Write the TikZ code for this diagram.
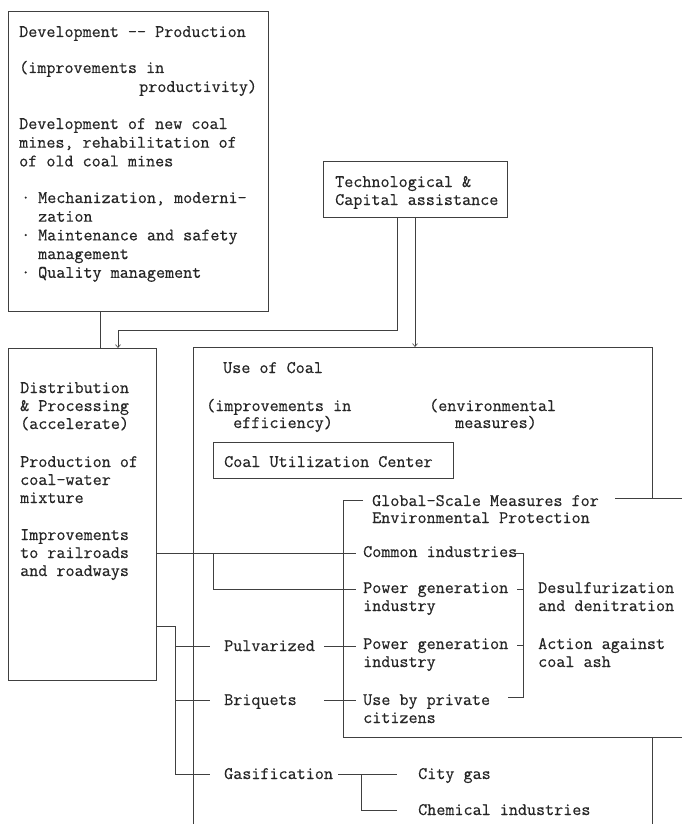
\documentclass[tikz,border=0pt]{standalone}
\usepackage{fontspec}
\newfontfamily\tw{Latin Modern Mono}[FakeBold=0.45]
\usetikzlibrary{arrows.meta}
\begin{document}
\begin{tikzpicture}[x=1pt,y=-1pt,
  ln/.style={draw=black!75, line width=0.6pt},
  box/.style={draw=black!75, line width=0.6pt, anchor=north west, inner sep=0pt},
  txt/.style={anchor=base west, inner sep=0pt, align=left, text=black!85, font=\tw\fontsize{17.6}{18}\selectfont},
  txtb/.style={txt, font=\tw\fontsize{17.6}{18.7}\selectfont},
  txtg/.style={txt, font=\tw\fontsize{17.6}{17}\selectfont},
  arr/.style={ln, -{Straight Barb[length=3pt,width=5pt]}}]
\useasboundingbox (0,0) rectangle (682,824);
\fill[white] (0,0) rectangle (682,824);

% boxes
\node[box, minimum width=260pt, minimum height=300pt] (prod) at (8,11) {};
\node[box, minimum width=184pt, minimum height=56pt] (tech) at (323,161) {};
\node[box, minimum width=148pt, minimum height=332pt] (dist) at (8,348) {};
\node[box, minimum width=240pt, minimum height=36pt] (cuc) at (213,442) {};

% Use of Coal outline (open at the bottom)
\coordinate (uBL) at (193,824);
\coordinate (uTL) at (193,347);
\coordinate (uTR) at (652,347);
\coordinate (uR)  at (652,498);
\draw[ln] (uBL) -- (uTL) -- (uTR) -- (uR);

% Global-scale region
\coordinate (gT)  at (363,500);
\coordinate (gTL) at (343,500);
\coordinate (gBL) at (343,737);
\coordinate (gBR) at (682,737);
\draw[ln] (gT) -- (gTL) -- (gBL) -- (gBR);
\coordinate (gR1) at (615,498);
\coordinate (gR2) at (682,498);
\draw[ln] (gR1) -- (gR2);
\coordinate (uR2) at (652,737);
\coordinate (uR3) at (652,824);
\draw[ln] (uR2) -- (uR3);

% texts (multi-line nodes are placed by the baseline of their last line)
\node[txtb] (t1) at (19,37) {Development -\kern0pt- Production};
\node[txtb] (t2) at (19,73) {(improvements in};
\node[txtb] (t3) at (139,92) {productivity)};
\node[txtb] (t4) at (19,166.4) {Development of new coal\\mines, rehabilitation of\\of old coal mines};
\node[txtb] (t5) at (19,277.8) {\hbox to 19pt{\hspace{2pt}·\hss}Mechanization, moderni-\\\hspace*{19pt}zation\\\hbox to 19pt{\hspace{2pt}·\hss}Maintenance and safety\\\hspace*{19pt}management\\\hbox to 19pt{\hspace{2pt}·\hss}Quality management};

% Technological
\node[txt] (tt) at (335,205) {Technological \&\\Capital assistance};

% Distribution
\node[txt] (d1) at (20,429) {Distribution\\\& Processing\\(accelerate)};
\node[txt] (d2) at (20,503) {Production of\\coal-water\\mixture};
\node[txt] (d3) at (20,576) {Improvements\\to railroads\\and roadways};

% Use of coal
\node[txt] (u1) at (223,373) {Use of Coal};
\node[txt] (u2) at (206,411) {(improvements in};
\node[txt] (u3) at (233,428) {efficiency)};
\node[txt] (u4) at (429,411) {(environmental};
\node[txt] (u5) at (455,428) {measures)};
\node[txt] (u6) at (224,467) {Coal Utilization Center};
\node[txtg] (g1) at (372,523) {Global-Scale Measures for\\Environmental Protection};
\node[txt] (c1) at (363,557) {Common industries};
\node[txt] (c2) at (363,611) {Power generation\\industry};
\node[txt] (c3) at (538,611) {Desulfurization\\and denitration};
\node[txt] (c4) at (363,667) {Power generation\\industry};
\node[txt] (c5) at (538,667) {Action against\\coal ash};
\node[txt] (c6) at (363,723) {Use by private\\citizens};
\node[txt] (s1) at (224,651) {Pulvarized};
\node[txt] (s2) at (224,705) {Briquets};
\node[txt] (s3) at (224,779) {Gasification};
\node[txt] (s4) at (418,779) {City gas};
\node[txt] (s5) at (418,815) {Chemical industries};

% connectors top
\coordinate (pa) at (100,311);
\coordinate (pb) at (100,348);
\draw[ln] (pa) -- (pb);
\coordinate (ta) at (397,217);
\coordinate (tb) at (397,330);
\coordinate (tc) at (118,330);
\coordinate (td) at (118,348);
\draw[arr] (ta) -- (tb) -- (tc) -- (td);
\coordinate (te) at (415,217);
\coordinate (tf) at (415,347);
\draw[arr] (te) -- (tf);

% connectors from Distribution to Use
\coordinate (da) at (156,553);
\coordinate (db) at (356,553);
\draw[ln] (da) -- (db);
\coordinate (dc) at (213,553);
\coordinate (dd) at (213,589);
\coordinate (de) at (356,589);
\draw[ln] (dc) -- (dd) -- (de);

% right bracket
\coordinate (ra) at (515,553);
\coordinate (rb) at (523,553);
\coordinate (rc) at (523,697);
\coordinate (rd) at (508,697);
\draw[ln] (ra) -- (rb) -- (rc) -- (rd);
\coordinate (re) at (517,589);
\coordinate (rf) at (523,589);
\draw[ln] (re) -- (rf);
\coordinate (rg) at (517,645);
\coordinate (rh) at (523,645);
\draw[ln] (rg) -- (rh);

% lower tree
\coordinate (la) at (156,626);
\coordinate (lb) at (175,626);
\coordinate (lc) at (175,774);
\coordinate (ld) at (210,774);
\draw[ln] (la) -- (lb) -- (lc) -- (ld);
\coordinate (le) at (175,646);
\coordinate (lf) at (210,646);
\draw[ln] (le) -- (lf);
\coordinate (lg) at (175,700);
\coordinate (lh) at (210,700);
\draw[ln] (lg) -- (lh);
\coordinate (pv1) at (324,646);
\coordinate (pv2) at (356,646);
\draw[ln] (pv1) -- (pv2);
\coordinate (br1) at (324,700);
\coordinate (br2) at (356,700);
\draw[ln] (br1) -- (br2);
\coordinate (ga1) at (338,774);
\coordinate (ga2) at (397,774);
\draw[ln] (ga1) -- (ga2);
\coordinate (ga3) at (361,774);
\coordinate (ga4) at (361,810);
\coordinate (ga5) at (397,810);
\draw[ln] (ga3) -- (ga4) -- (ga5);
\end{tikzpicture}
\end{document}
